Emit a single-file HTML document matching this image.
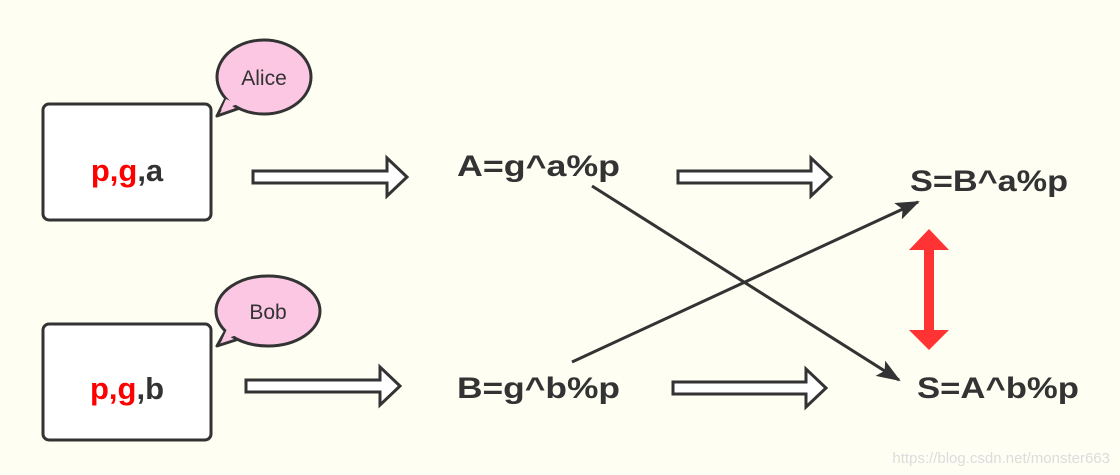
<!DOCTYPE html>
<html><head><meta charset="utf-8"><style>
html,body{margin:0;padding:0;background:#fefef3;}
svg{display:block;}
text{font-family:"Liberation Sans",sans-serif;font-weight:bold;fill:#333;}
</style></head><body>
<svg width="1120" height="475" viewBox="0 0 1120 475">
<rect width="1120" height="475" fill="#fefef3"/>
<defs>
<marker id="ah" markerWidth="24" markerHeight="18" refX="22" refY="9" orient="auto" markerUnits="userSpaceOnUse" viewBox="0 0 24 18"><path d="M0,0 L24,9 L0,18 L5,9 Z" fill="#333"/></marker>
</defs>
<!-- Alice box -->
<rect x="43" y="104" width="168" height="116" rx="6" fill="#fff" stroke="#333" stroke-width="3"/>
<text x="127" y="181" text-anchor="middle" font-size="31"><tspan fill="#f00">p,g</tspan>,a</text>
<g>
<path d="M225,100 L217,116 L240,108 Z" fill="#fcc7e3" stroke="#333" stroke-width="3" stroke-linejoin="round"/>
<ellipse cx="264" cy="77" rx="47" ry="37" fill="#fcc7e3" stroke="#333" stroke-width="3"/>
<path d="M226,99 L221,110 L238,104 Z" fill="#fcc7e3"/>
</g>
<text x="264" y="85" text-anchor="middle" font-size="21" style="font-weight:normal">Alice</text>
<!-- Bob box -->
<rect x="43" y="324" width="168" height="116" rx="6" fill="#fff" stroke="#333" stroke-width="3"/>
<text x="127" y="399" text-anchor="middle" font-size="31"><tspan fill="#f00">p,g</tspan>,b</text>
<g>
<path d="M226,330 L217,346 L242,338 Z" fill="#fcc7e3" stroke="#333" stroke-width="3" stroke-linejoin="round"/>
<ellipse cx="268" cy="311" rx="52" ry="35" fill="#fcc7e3" stroke="#333" stroke-width="3"/>
<path d="M227,329 L222,340 L240,334 Z" fill="#fcc7e3"/>
</g>
<text x="268" y="319" text-anchor="middle" font-size="21" style="font-weight:normal">Bob</text>
<!-- hollow arrows -->
<g fill="#fff" stroke="#333" stroke-width="3" stroke-linejoin="miter">
<path d="M253,171 L387,171 L387,158 L407,177 L387,196 L387,183 L253,183 Z"/>
<path d="M246,380 L380,380 L380,367 L400,386 L380,405 L380,392 L246,392 Z"/>
<path d="M678,171 L811,171 L811,158 L831,177 L811,196 L811,183 L678,183 Z"/>
<path d="M673,382 L806,382 L806,369 L826,388 L806,407 L806,394 L673,394 Z"/>
</g>
<text x="457" y="176" font-size="30" textLength="163" lengthAdjust="spacingAndGlyphs">A=g^a%p</text>
<text x="457" y="398" font-size="30" textLength="163" lengthAdjust="spacingAndGlyphs">B=g^b%p</text>
<text x="910" y="191" font-size="30" textLength="158" lengthAdjust="spacingAndGlyphs">S=B^a%p</text>
<text x="917" y="398" font-size="30" textLength="162" lengthAdjust="spacingAndGlyphs">S=A^b%p</text>
<!-- cross lines -->
<line x1="592" y1="186" x2="899" y2="380" stroke="#333" stroke-width="3" marker-end="url(#ah)"/>
<line x1="572" y1="362" x2="918" y2="202" stroke="#333" stroke-width="3" marker-end="url(#ah)"/>
<!-- red double arrow -->
<path d="M929,229 L949,250 L934,250 L934,330 L949,330 L929,350 L909,330 L924,330 L924,250 L909,250 Z" fill="#ff3333"/>
<text x="1110" y="463" text-anchor="end" font-size="15" style="font-weight:normal;fill:#dcdcdc">https://blog.csdn.net/monster663</text>
</svg>
</body></html>
